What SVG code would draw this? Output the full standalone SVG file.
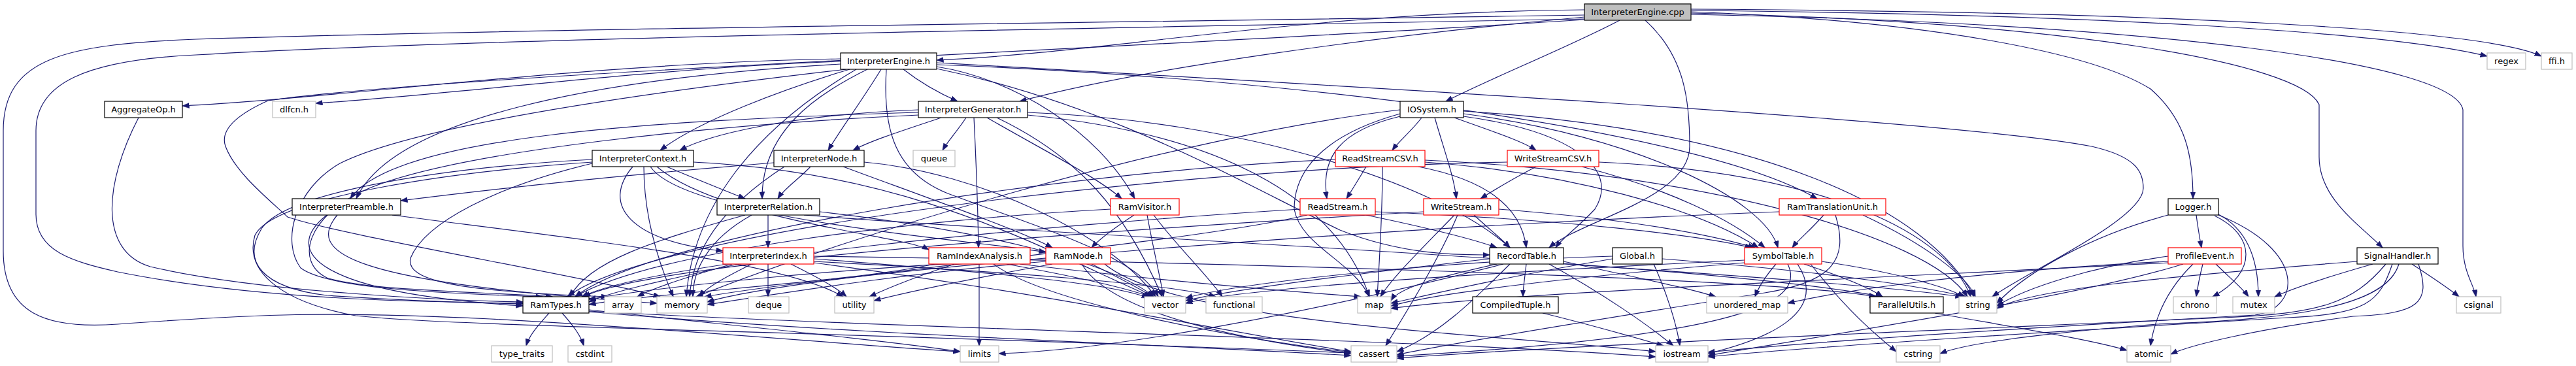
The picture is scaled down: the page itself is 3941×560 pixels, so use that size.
<svg xmlns="http://www.w3.org/2000/svg" width="3941" height="560" viewBox="0 0 3941 560">
<style>
.e path{fill:none;stroke:#191970;stroke-width:1.2;marker-end:url(#ah)}
.nd rect{fill:#fff;stroke-width:1.2}
.k rect{stroke:#000}
.r rect{stroke:#ff0000}
.x rect{stroke:#bfbfbf}
.c rect{fill:#bfbfbf;stroke:#000}
text{font-family:"DejaVu Sans",Verdana,sans-serif;font-size:13px;text-anchor:middle;fill:#000}
</style>
<defs>
<marker id="ah" markerUnits="userSpaceOnUse" markerWidth="12" markerHeight="9" refX="10.5" refY="4" orient="auto"><path d="M0,0 L11,4 L0,8 z" fill="#191970" stroke="#191970" stroke-width="0.5"/></marker>
</defs>
<rect width="3941" height="560" fill="#fff"/>
<g id="edges" class="e">
<path d="M2424,15 C2000,18 1700,80 1433,92"/>
<path d="M2424,26 C2100,56 1750,104 1560,155"/>
<path d="M2478,31 C2400,72 2280,120 2212,155"/>
<path d="M2517,31 C2580,88 2585,160 2585,224 C2585,304 2420,336 2370,379"/>
<path d="M2587,18 C2950,32 3200,80 3290,136 C3345,184 3355,240 3355,304"/>
<path d="M2587,20 C3150,32 3520,96 3548,160 L3548,240 C3548,304 3610,344 3645,379"/>
<path d="M2587,22 C3300,36 3755,96 3768,168 L3768,376 C3768,416 3785,436 3788,454"/>
<path d="M2587,16 C3200,22 3650,48 3805,86"/>
<path d="M2587,14 C3300,18 3800,44 3888,86"/>
<path d="M2424,29 C1600,44 700,60 300,84 C130,92 55,128 55,200 L55,328 C55,384 110,400 180,416 C400,460 650,462 800,464"/>
<path d="M2424,23 C1600,36 800,44 300,60 C100,68 5,88 5,200 L5,384 C5,480 70,504 180,496 C400,480 500,476 750,488 C1050,504 1300,528 1469,538"/>
<path d="M2424,30 C1800,72 700,112 410,154 C370,172 335,196 345,224 C360,264 410,304 440,332 C520,360 900,424 1010,454"/>
<path d="M1286,90 C900,96 500,152 279,162"/>
<path d="M1286,94 C1000,104 700,144 483,158"/>
<path d="M1286,98 C900,120 600,184 545,304"/>
<path d="M1300,106 C1200,136 1070,184 1010,230"/>
<path d="M1348,106 C1320,152 1290,192 1267,230"/>
<path d="M1327,106 C1250,144 1165,200 1166,304"/>
<path d="M1382,106 C1410,128 1440,144 1465,155"/>
<path d="M1356,106 C1350,200 1370,264 1450,296 C1600,352 1740,392 1772,454"/>
<path d="M1433,102 C1550,120 1680,200 1736,304"/>
<path d="M1433,96 C2000,128 3000,184 3200,224 C3270,240 3279,264 3279,288 C3279,336 3100,416 3048,454"/>
<path d="M1433,99 C2000,120 2600,200 2780,304"/>
<path d="M1433,105 C1700,160 1900,280 2050,352 C2150,392 2240,390 2279,390"/>
<path d="M1295,106 C1000,140 640,190 520,250 C450,290 430,370 460,410 C500,440 650,448 830,454"/>
<path d="M1310,106 C1150,200 1060,320 1050,454"/>
<path d="M1405,172 C1000,184 600,208 536,304"/>
<path d="M1405,168 C1200,176 1080,208 1040,230"/>
<path d="M1440,180 C1380,200 1330,216 1305,230"/>
<path d="M1478,180 C1465,200 1450,216 1442,230"/>
<path d="M1490,180 C1493,240 1496,320 1497,379"/>
<path d="M1510,180 C1600,232 1680,272 1716,304"/>
<path d="M1525,180 C1650,240 1720,320 1778,454"/>
<path d="M1572,172 C1900,184 2200,280 2310,379"/>
<path d="M1572,176 C1900,208 2050,320 2095,454"/>
<path d="M1405,176 C1100,190 700,230 560,290 C470,330 450,400 500,425 C560,445 750,447 845,454"/>
<path d="M1020,255 C1060,272 1100,288 1140,304"/>
<path d="M968,255 C920,312 960,368 1106,384"/>
<path d="M985,255 C985,320 1000,384 1030,454"/>
<path d="M995,255 C1050,336 1500,368 1600,386"/>
<path d="M1005,255 C1100,336 1380,360 1421,382"/>
<path d="M906,244 C700,255 440,290 400,350 C370,400 400,440 500,452 C650,462 750,464 800,465"/>
<path d="M906,250 C760,285 650,340 628,395 C620,430 700,446 930,454"/>
<path d="M906,248 C700,262 420,300 390,360 C375,410 420,460 544,483 C700,500 1200,505 2067,540"/>
<path d="M1061,248 C1400,264 1600,384 1762,454"/>
<path d="M1240,255 C1220,276 1200,288 1190,304"/>
<path d="M1184,249 C900,272 700,296 613,307"/>
<path d="M1290,255 C1400,296 1560,352 1610,379"/>
<path d="M1322,248 C1500,264 1700,360 1768,454"/>
<path d="M1200,255 C1100,320 1060,384 1055,454"/>
<path d="M500,329 C430,384 480,448 800,468"/>
<path d="M516,329 C470,384 520,432 1005,464"/>
<path d="M600,329 C900,368 1200,400 1290,454"/>
<path d="M1175,329 L1175,379"/>
<path d="M1140,329 C1000,368 900,400 872,454"/>
<path d="M1150,329 C1080,368 1060,416 1060,454"/>
<path d="M1230,329 C1600,360 2600,400 2880,454"/>
<path d="M1254,324 C1500,352 1700,400 1765,454"/>
<path d="M1130,404 C1000,432 930,448 901,462"/>
<path d="M1150,404 C1110,424 1080,440 1070,454"/>
<path d="M1175,404 L1175,454"/>
<path d="M1210,404 C1250,424 1280,440 1295,454"/>
<path d="M1120,404 C1050,424 1000,440 975,454"/>
<path d="M1245,396 C1500,416 1700,432 1757,456"/>
<path d="M1245,400 C1550,416 1800,436 1860,454"/>
<path d="M1245,392 C1800,400 2700,424 2870,454"/>
<path d="M1245,402 C1600,448 1900,512 2067,538"/>
<path d="M1498,404 L1498,529"/>
<path d="M1460,404 C1400,424 1360,440 1330,454"/>
<path d="M1540,404 C1650,424 1720,440 1760,454"/>
<path d="M1430,404 C1300,432 1000,448 901,466"/>
<path d="M1520,404 C1600,464 1900,520 2067,539"/>
<path d="M1560,404 C1800,432 2000,448 2082,454"/>
<path d="M1670,404 C1710,424 1740,440 1764,454"/>
<path d="M1655,404 C1700,480 1900,520 2067,541"/>
<path d="M1690,404 C1800,496 2300,512 2533,538"/>
<path d="M1600,400 C1400,416 1200,448 1082,466"/>
<path d="M1610,404 C1500,424 1400,444 1337,460"/>
<path d="M1600,396 C1300,408 1000,440 901,458"/>
<path d="M1735,329 C1700,352 1680,368 1670,379"/>
<path d="M1755,329 C1765,384 1775,424 1780,454"/>
<path d="M1765,329 C1800,376 1850,424 1870,454"/>
<path d="M1699,320 C1400,336 1000,384 880,454"/>
<path d="M2175,180 C2160,200 2140,216 2130,230"/>
<path d="M2225,180 C2280,200 2330,216 2350,230"/>
<path d="M2195,180 C2210,232 2225,272 2228,304"/>
<path d="M2142,178 C2050,200 2020,240 2030,304"/>
<path d="M2142,174 C2020,208 1980,264 1980,320 C1990,376 2070,400 2095,454"/>
<path d="M2239,174 C2500,208 2700,304 2720,379"/>
<path d="M2239,170 C2700,200 2950,320 3020,454"/>
<path d="M2239,178 C2400,200 2480,256 2440,320 C2410,352 2390,364 2380,379"/>
<path d="M2142,168 C1800,208 1300,360 1065,454"/>
<path d="M2090,255 C2080,272 2070,288 2060,304"/>
<path d="M2115,255 C2115,336 2110,400 2107,454"/>
<path d="M2170,255 C2300,280 2330,336 2335,379"/>
<path d="M2180,248 C2400,264 2600,320 2690,379"/>
<path d="M2180,245 C2600,264 2950,360 3010,454"/>
<path d="M2043,244 C1600,264 1000,360 880,454"/>
<path d="M2350,255 C2310,276 2290,288 2265,304"/>
<path d="M2420,255 C2550,288 2650,336 2700,379"/>
<path d="M2446,248 C2800,264 2980,360 3015,454"/>
<path d="M2306,248 C1800,256 1000,352 868,454"/>
<path d="M2090,329 C2200,352 2260,368 2290,379"/>
<path d="M2104,324 C2400,336 2600,360 2680,379"/>
<path d="M2000,329 C1800,376 1200,424 1082,462"/>
<path d="M1989,320 C1600,344 1000,400 890,454"/>
<path d="M2255,329 C2280,352 2300,368 2310,379"/>
<path d="M2225,329 C2180,376 2130,424 2112,454"/>
<path d="M2230,329 C2200,400 2150,480 2120,529"/>
<path d="M2293,320 C2500,336 2620,360 2685,379"/>
<path d="M2178,324 C1700,352 1000,400 893,454"/>
<path d="M2335,404 C2333,424 2330,440 2330,454"/>
<path d="M2290,404 C2200,424 2140,440 2128,460"/>
<path d="M2370,404 C2450,448 2520,496 2560,529"/>
<path d="M2310,404 C2250,464 2200,512 2137,538"/>
<path d="M2392,400 C2500,424 2580,440 2625,454"/>
<path d="M2279,396 C2100,416 1900,440 1814,460"/>
<path d="M2300,404 C2000,480 1700,536 1528,541"/>
<path d="M2392,404 C2700,424 2900,440 3002,454"/>
<path d="M2530,404 C2550,448 2565,496 2570,529"/>
<path d="M2467,396 C2300,424 2200,448 2128,464"/>
<path d="M2543,396 C2800,416 2950,440 3008,454"/>
<path d="M2467,392 C2200,400 1900,432 1814,456"/>
<path d="M2360,479 C2430,496 2500,516 2545,529"/>
<path d="M2790,329 C2770,352 2750,368 2742,379"/>
<path d="M2850,329 C2950,376 3010,424 3022,454"/>
<path d="M2808,329 C2830,400 2800,432 2700,448 C2500,480 2200,528 2137,543"/>
<path d="M2722,324 C2000,352 1300,416 1078,454"/>
<path d="M2717,404 C2700,424 2690,440 2685,454"/>
<path d="M2760,404 C2820,424 2860,440 2880,454"/>
<path d="M2787,400 C2900,416 2980,440 3005,454"/>
<path d="M2735,404 C2760,456 2700,512 2137,545"/>
<path d="M2750,404 C2800,480 2700,520 2613,541"/>
<path d="M2669,398 C2300,416 1900,440 1814,464"/>
<path d="M2669,402 C2400,424 2200,448 2128,468"/>
<path d="M2770,404 C2830,480 2870,512 2901,538"/>
<path d="M2960,479 C3100,504 3200,520 3254,536"/>
<path d="M3360,329 C3363,352 3366,368 3368,379"/>
<path d="M3388,330 C3450,360 3455,416 3385,454"/>
<path d="M3394,328 C3440,352 3455,400 3455,454"/>
<path d="M3317,329 C3200,360 3100,416 3055,464"/>
<path d="M3394,329 C3530,384 3520,472 3450,482 C3200,496 2800,520 2613,539"/>
<path d="M3370,404 C3365,424 3362,440 3360,454"/>
<path d="M3390,404 C3410,424 3430,440 3440,454"/>
<path d="M3355,404 C3310,448 3295,496 3290,529"/>
<path d="M3317,392 C3200,408 3100,440 3055,468"/>
<path d="M3340,404 C3200,448 2900,496 2613,544"/>
<path d="M3317,400 C3000,416 2800,448 2735,464"/>
<path d="M3317,402 C2900,424 2300,448 2128,472"/>
<path d="M3630,404 C3560,424 3510,440 3480,454"/>
<path d="M3690,404 C3720,424 3745,440 3762,454"/>
<path d="M3700,404 C3720,464 3700,480 3600,484 C3450,504 3350,528 3321,542"/>
<path d="M3660,404 C3640,464 3620,480 3500,486 C3200,504 2800,528 2613,546"/>
<path d="M3650,404 C3600,464 3550,480 3400,486 C3000,504 2400,528 2137,548"/>
<path d="M3606,400 C3300,424 3100,444 3055,472"/>
<path d="M3670,404 C3650,472 3500,488 3300,496 C3100,512 3000,528 2968,541"/>
<path d="M840,479 C825,496 810,512 805,529"/>
<path d="M860,479 C875,496 888,512 893,529"/>
<path d="M901,474 C1100,496 1350,520 1469,538"/>
<path d="M901,477 C1300,512 1800,528 2067,544"/>
<path d="M901,476 C1400,504 2200,520 2533,546"/>
<path d="M212,180 C160,280 150,384 230,408 C400,448 700,460 800,462"/>
</g>
<g id="n_cpp" class="nd c"><rect x="2424" y="6" width="163" height="25"/><text x="2505.5" y="23">InterpreterEngine.cpp</text></g>
<g id="n_engine_h" class="nd k"><rect x="1286" y="81" width="147" height="25"/><text x="1359.5" y="98">InterpreterEngine.h</text></g>
<g id="n_regex" class="nd x"><rect x="3805" y="81" width="59" height="25"/><text x="3834.5" y="98">regex</text></g>
<g id="n_ffi" class="nd x"><rect x="3888" y="81" width="47" height="25"/><text x="3911.5" y="98">ffi.h</text></g>
<g id="n_aggregateop" class="nd k"><rect x="160" y="155" width="119" height="25"/><text x="219.5" y="172">AggregateOp.h</text></g>
<g id="n_dlfcn" class="nd x"><rect x="417" y="155" width="66" height="25"/><text x="450" y="172">dlfcn.h</text></g>
<g id="n_generator" class="nd k"><rect x="1405" y="155" width="167" height="25"/><text x="1488.5" y="172">InterpreterGenerator.h</text></g>
<g id="n_iosystem" class="nd k"><rect x="2142" y="155" width="97" height="25"/><text x="2190.5" y="172">IOSystem.h</text></g>
<g id="n_context" class="nd k"><rect x="906" y="230" width="155" height="25"/><text x="983.5" y="247">InterpreterContext.h</text></g>
<g id="n_node" class="nd k"><rect x="1184" y="230" width="138" height="25"/><text x="1253" y="247">InterpreterNode.h</text></g>
<g id="n_queue" class="nd x"><rect x="1397" y="230" width="64" height="25"/><text x="1429" y="247">queue</text></g>
<g id="n_readcsv" class="nd r"><rect x="2043" y="230" width="137" height="25"/><text x="2111.5" y="247">ReadStreamCSV.h</text></g>
<g id="n_writecsv" class="nd r"><rect x="2306" y="230" width="140" height="25"/><text x="2376" y="247">WriteStreamCSV.h</text></g>
<g id="n_preamble" class="nd k"><rect x="447" y="304" width="166" height="25"/><text x="530" y="321">InterpreterPreamble.h</text></g>
<g id="n_relation" class="nd k"><rect x="1097" y="304" width="157" height="25"/><text x="1175.5" y="321">InterpreterRelation.h</text></g>
<g id="n_ramvisitor" class="nd r"><rect x="1699" y="304" width="105" height="25"/><text x="1751.5" y="321">RamVisitor.h</text></g>
<g id="n_readstream" class="nd r"><rect x="1989" y="304" width="115" height="25"/><text x="2046.5" y="321">ReadStream.h</text></g>
<g id="n_writestream" class="nd r"><rect x="2178" y="304" width="115" height="25"/><text x="2235.5" y="321">WriteStream.h</text></g>
<g id="n_ramtu" class="nd r"><rect x="2722" y="304" width="163" height="25"/><text x="2803.5" y="321">RamTranslationUnit.h</text></g>
<g id="n_logger" class="nd k"><rect x="3317" y="304" width="77" height="25"/><text x="3355.5" y="321">Logger.h</text></g>
<g id="n_index" class="nd r"><rect x="1106" y="379" width="139" height="25"/><text x="1175.5" y="396">InterpreterIndex.h</text></g>
<g id="n_ramindex" class="nd r"><rect x="1421" y="379" width="155" height="25"/><text x="1498.5" y="396">RamIndexAnalysis.h</text></g>
<g id="n_ramnode" class="nd r"><rect x="1600" y="379" width="99" height="25"/><text x="1649.5" y="396">RamNode.h</text></g>
<g id="n_recordtable" class="nd k"><rect x="2279" y="379" width="113" height="25"/><text x="2335.5" y="396">RecordTable.h</text></g>
<g id="n_global" class="nd k"><rect x="2467" y="379" width="76" height="25"/><text x="2505" y="396">Global.h</text></g>
<g id="n_symboltable" class="nd r"><rect x="2669" y="379" width="118" height="25"/><text x="2728" y="396">SymbolTable.h</text></g>
<g id="n_profileevent" class="nd r"><rect x="3317" y="379" width="112" height="25"/><text x="3373" y="396">ProfileEvent.h</text></g>
<g id="n_signalhandler" class="nd k"><rect x="3606" y="379" width="124" height="25"/><text x="3668" y="396">SignalHandler.h</text></g>
<g id="n_ramtypes" class="nd k"><rect x="800" y="454" width="101" height="25"/><text x="850.5" y="471">RamTypes.h</text></g>
<g id="n_array" class="nd x"><rect x="925" y="454" width="56" height="25"/><text x="953" y="471">array</text></g>
<g id="n_memory" class="nd x"><rect x="1005" y="454" width="77" height="25"/><text x="1043.5" y="471">memory</text></g>
<g id="n_deque" class="nd x"><rect x="1145" y="454" width="62" height="25"/><text x="1176" y="471">deque</text></g>
<g id="n_utility" class="nd x"><rect x="1277" y="454" width="60" height="25"/><text x="1307" y="471">utility</text></g>
<g id="n_vector" class="nd x"><rect x="1751" y="454" width="63" height="25"/><text x="1782.5" y="471">vector</text></g>
<g id="n_functional" class="nd x"><rect x="1845" y="454" width="86" height="25"/><text x="1888" y="471">functional</text></g>
<g id="n_map" class="nd x"><rect x="2077" y="454" width="51" height="25"/><text x="2102.5" y="471">map</text></g>
<g id="n_compiledtuple" class="nd k"><rect x="2253" y="454" width="131" height="25"/><text x="2318.5" y="471">CompiledTuple.h</text></g>
<g id="n_unordered_map" class="nd x"><rect x="2611" y="454" width="124" height="25"/><text x="2673" y="471">unordered_map</text></g>
<g id="n_parallelutils" class="nd k"><rect x="2861" y="454" width="112" height="25"/><text x="2917" y="471">ParallelUtils.h</text></g>
<g id="n_string" class="nd x"><rect x="2997" y="454" width="58" height="25"/><text x="3026" y="471">string</text></g>
<g id="n_chrono" class="nd x"><rect x="3325" y="454" width="66" height="25"/><text x="3358" y="471">chrono</text></g>
<g id="n_mutex" class="nd x"><rect x="3416" y="454" width="64" height="25"/><text x="3448" y="471">mutex</text></g>
<g id="n_csignal" class="nd x"><rect x="3758" y="454" width="68" height="25"/><text x="3792" y="471">csignal</text></g>
<g id="n_type_traits" class="nd x"><rect x="752" y="529" width="93" height="25"/><text x="798.5" y="546">type_traits</text></g>
<g id="n_cstdint" class="nd x"><rect x="869" y="529" width="67" height="25"/><text x="902.5" y="546">cstdint</text></g>
<g id="n_limits" class="nd x"><rect x="1469" y="529" width="59" height="25"/><text x="1498.5" y="546">limits</text></g>
<g id="n_cassert" class="nd x"><rect x="2067" y="529" width="70" height="25"/><text x="2102" y="546">cassert</text></g>
<g id="n_iostream" class="nd x"><rect x="2533" y="529" width="80" height="25"/><text x="2573" y="546">iostream</text></g>
<g id="n_cstring" class="nd x"><rect x="2901" y="529" width="67" height="25"/><text x="2934.5" y="546">cstring</text></g>
<g id="n_atomic" class="nd x"><rect x="3254" y="529" width="67" height="25"/><text x="3287.5" y="546">atomic</text></g>
</svg>
